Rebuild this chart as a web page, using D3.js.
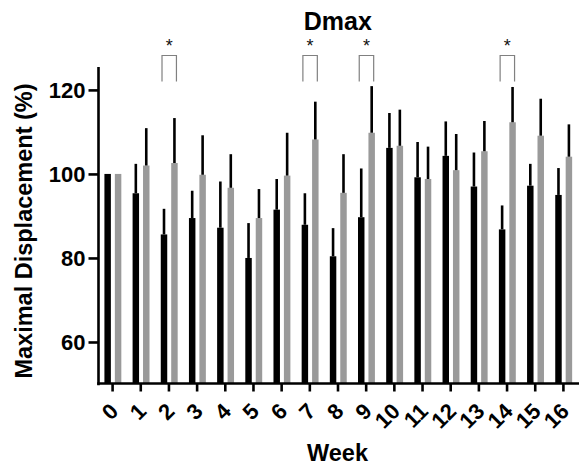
<!DOCTYPE html>
<html>
<head>
<meta charset="utf-8">
<script src="https://cdn.jsdelivr.net/npm/d3@7"></script>
<style>
  html, body { margin: 0; padding: 0; background: #fff; }
  svg { display: block; font-family: "Liberation Sans", Arial, Helvetica, sans-serif; }
</style>
</head>
<body>
<svg id="chart" width="579" height="465"></svg>
<script>
// Weekly maximal displacement, normalised to week 0 (mean + SD)
const weeks = ["0","1","2","3","4","5","6","7","8","9","10","11","12","13","14","15","16"];
const seriesNames = ["groupA", "groupB"];
const groupAMean = [100, 95.4, 85.6, 89.5, 87.2, 80.0, 91.5, 87.9, 80.4, 89.7, 106.2, 99.2, 104.3, 97.0, 86.8, 97.2, 95.0];
const groupASD   = [0, 7.0, 6.1, 6.5, 11.0, 8.3, 7.3, 7.5, 6.7, 11.6, 8.3, 8.4, 8.2, 8.1, 5.7, 5.2, 6.4];
const groupBMean = [100, 102.0, 102.6, 99.8, 96.7, 89.5, 99.6, 108.2, 95.5, 109.8, 106.7, 98.8, 100.9, 105.4, 112.3, 109.1, 104.1];
const groupBSD   = [0, 8.9, 10.7, 9.4, 8.0, 6.9, 10.2, 9.0, 9.2, 11.1, 8.6, 7.7, 8.6, 7.2, 8.4, 8.8, 7.7];
const significantWeeks = ["2", "7", "9", "14"];
const yTicks = [60, 80, 100, 120];
const yDomain = [50, 125];

const colors = { groupA: "#000000", groupB: "#9a9a9a" };

const svg = d3.select("#chart");
const plotLeft = 98.5, plotRight = 577.5, plotTop = 68.9, plotBottom = 384;

const x0 = d3.scaleBand().domain(weeks).range([plotLeft, plotRight]).padding(0);
const x1 = d3.scaleBand().domain(seriesNames)
  .range([x0.bandwidth() * 0.21, x0.bandwidth() * 0.81])
  .paddingInner(0.38).paddingOuter(0);
const y = d3.scaleLinear().domain(yDomain).range([plotBottom, plotTop]);

const rows = weeks.map((w, i) => ({
  week: w,
  values: [
    { key: "groupA", mean: groupAMean[i], sd: groupASD[i] },
    { key: "groupB", mean: groupBMean[i], sd: groupBSD[i] }
  ]
}));

const groups = svg.append("g").selectAll("g")
  .data(rows).join("g")
  .attr("transform", d => `translate(${x0(d.week)},0)`);

// bars
groups.selectAll("rect")
  .data(d => d.values).join("rect")
  .attr("x", d => x1(d.key))
  .attr("width", x1.bandwidth())
  .attr("y", d => y(d.mean))
  .attr("height", d => y(yDomain[0]) - y(d.mean))
  .attr("fill", d => colors[d.key]);

// upper error bars
groups.selectAll("line.err")
  .data(d => d.values.filter(v => v.sd > 0)).join("line")
  .attr("class", "err")
  .attr("x1", d => x1(d.key) + x1.bandwidth() / 2)
  .attr("x2", d => x1(d.key) + x1.bandwidth() / 2)
  .attr("y1", d => y(d.mean))
  .attr("y2", d => y(d.mean + d.sd))
  .attr("stroke", "#000")
  .attr("stroke-width", 2.6);

// y axis
const yAxis = svg.append("g")
  .attr("transform", `translate(${plotLeft},0)`)
  .call(d3.axisLeft(y).tickValues(yTicks).tickSize(10).tickSizeOuter(0).tickPadding(3));
yAxis.select(".domain").remove();
yAxis.append("line")
  .attr("x1", 0).attr("x2", 0)
  .attr("y1", y(yDomain[1]) - 2).attr("y2", plotBottom + 1.3)
  .attr("stroke", "#000").attr("stroke-width", 2.6);
yAxis.selectAll(".tick line").attr("stroke", "#000").attr("stroke-width", 2.6);
yAxis.selectAll(".tick text")
  .attr("font-size", 22).attr("font-weight", "bold").attr("fill", "#000")
  .attr("dy", "0.36em");

// x axis
const xAxis = svg.append("g")
  .attr("transform", `translate(0,${plotBottom - 0.5})`)
  .call(d3.axisBottom(x0).tickSize(8).tickSizeOuter(0));
xAxis.select(".domain").remove();
xAxis.append("line")
  .attr("x1", plotLeft - 1.3).attr("x2", 579)
  .attr("y1", 0).attr("y2", 0)
  .attr("stroke", "#000").attr("stroke-width", 2.6);
xAxis.selectAll(".tick line").attr("stroke", "#000").attr("stroke-width", 2.6);
xAxis.selectAll(".tick text")
  .attr("font-size", 22).attr("font-weight", "bold").attr("fill", "#000")
  .attr("text-anchor", "end")
  .attr("y", 0).attr("dy", 0)
  .attr("transform", "translate(7,29) rotate(-45)");

// significance brackets
const bracketTop = 55.5, bracketLeg = 81.5;
const sig = svg.append("g").selectAll("g")
  .data(significantWeeks).join("g")
  .attr("transform", d => `translate(${x0(d)},0)`);
sig.append("path")
  .attr("d", () => {
    const xa = x1("groupA") + x1.bandwidth() / 2 - 2;
    const xb = x1("groupB") + x1.bandwidth() / 2 + 2;
    return `M${xa},${bracketLeg}V${bracketTop}H${xb}V${bracketLeg}`;
  })
  .attr("fill", "none").attr("stroke", "#808080").attr("stroke-width", 1.2);
sig.append("text")
  .attr("x", (x1("groupA") + x1("groupB") + x1.bandwidth()) / 2)
  .attr("y", 52)
  .attr("text-anchor", "middle")
  .attr("font-size", 18).attr("fill", "#111")
  .text("*");

// title and axis labels
svg.append("text")
  .attr("x", 337.8).attr("y", 30)
  .attr("text-anchor", "middle")
  .attr("font-size", 25).attr("font-weight", "bold")
  .text("Dmax");

svg.append("text")
  .attr("x", 337.5).attr("y", 461)
  .attr("text-anchor", "middle")
  .attr("font-size", 23.5).attr("font-weight", "bold")
  .text("Week");

svg.append("text")
  .attr("transform", "translate(32,231) rotate(-90)")
  .attr("text-anchor", "middle")
  .attr("font-size", 23.5).attr("font-weight", "bold")
  .text("Maximal Displacement (%)");
</script>
</body>
</html>
